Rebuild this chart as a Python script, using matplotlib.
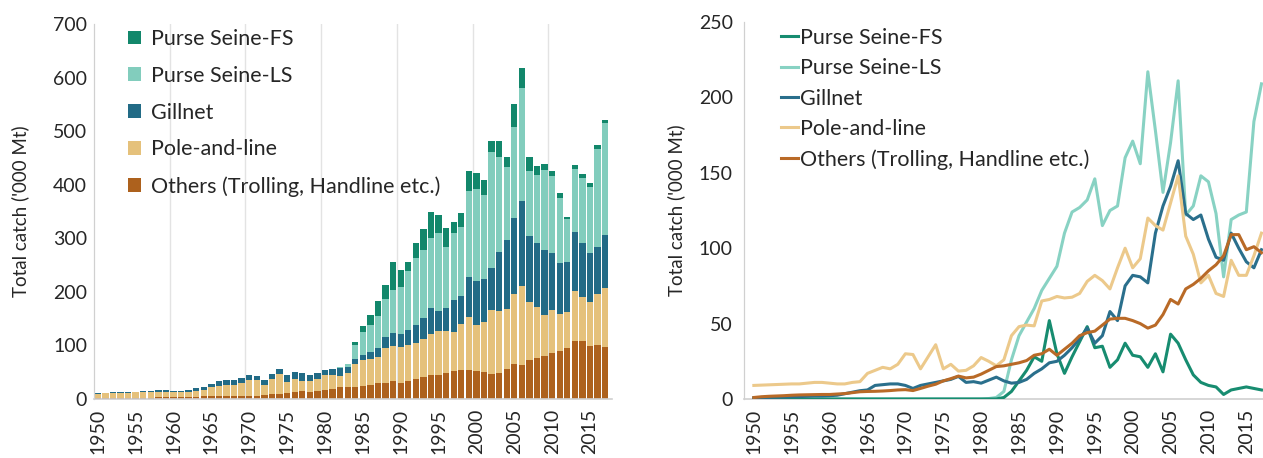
import numpy as np
import matplotlib

matplotlib.use("Agg")

import matplotlib.pyplot as plt

plt.rcParams["font.family"] = ["Lato", "DejaVu Sans"]

years = list(range(1950, 2018))

others = [1.0, 1.5, 1.8, 2.0, 2.2, 2.5, 2.7, 2.8, 2.9, 3.0,
          3.0, 3.3, 3.6, 4.2, 4.8, 5.0, 5.1, 5.3, 5.6, 6.0,
          6.2, 5.6, 7.0, 8.5, 9.8, 12.0, 13.5, 15.2, 14.0, 14.5,
          16.5, 19.0, 21.5, 22.0, 23.0, 24.0, 25.5, 29.0, 30.0, 33.0,
          29.0, 33.0, 37.0, 42.0, 44.0, 45.0, 49.0, 53.0, 53.5, 53.5,
          52.0, 50.0, 47.0, 49.0, 56.0, 66.0, 63.0, 73.0, 76.0, 80.0,
          85.0, 89.0, 95.0, 109.0, 109.0, 99.0, 101.0, 97.0]

pole_and_line = [9.0, 9.2, 9.4, 9.6, 9.8, 10.0, 10.0, 10.5, 11.0, 11.0,
                 10.5, 10.0, 10.0, 11.0, 11.5, 17.0, 19.0, 21.0, 20.0, 23.0,
                 30.0, 29.5, 20.0, 28.0, 36.0, 20.0, 23.0, 18.5, 19.0, 22.0,
                 27.5, 25.0, 22.0, 26.0, 42.0, 48.0, 49.0, 48.5, 65.0, 66.0,
                 68.0, 67.0, 67.5, 70.0, 78.0, 82.0, 78.5, 73.0, 87.0, 100.0,
                 87.0, 93.0, 120.0, 115.0, 112.0, 130.0, 148.0, 108.0, 96.0, 77.0,
                 82.0, 70.0, 68.0, 92.0, 82.0, 82.0, 95.0, 110.0]

gillnet = [0.8, 1.0, 1.0, 1.2, 1.3, 1.5, 1.6, 1.8, 2.0, 2.0,
           2.2, 2.5, 3.5, 4.5, 5.5, 6.0, 9.0, 9.5, 10.0, 10.0,
           9.0, 7.0, 9.0, 10.0, 11.0, 12.0, 13.0, 15.0, 11.0, 11.5,
           10.5, 12.5, 14.5, 12.0, 10.5, 11.0, 13.0, 17.0, 20.0, 24.0,
           25.0, 29.0, 34.0, 40.0, 47.0, 37.0, 42.0, 58.0, 52.0, 75.0,
           82.0, 81.0, 77.0, 110.0, 128.0, 141.0, 158.0, 123.0, 119.0, 122.0,
           106.0, 94.0, 92.0, 110.0, 100.0, 91.0, 87.0, 99.0]

purse_seine_ls = [0.0] * 31 + [0.3, 1.0, 5.0, 26.0, 42.0, 51.0, 60.0, 72.0, 80.0,
                               88.0, 110.0, 124.0, 127.0, 132.0, 146.0, 115.0, 125.0, 128.0, 160.0,
                               171.0, 156.0, 217.0, 178.0, 137.0, 170.0, 211.0, 122.0, 128.0, 148.0,
                               144.0, 123.0, 81.0, 119.0, 122.0, 124.0, 184.0, 209.0]

purse_seine_fs = [0.0] * 33 + [1.0, 5.0, 12.0, 19.0, 28.0, 25.0, 52.0,
                               30.0, 17.0, 28.0, 38.0, 48.0, 34.0, 35.0, 21.0, 26.0, 37.0,
                               29.0, 28.0, 21.0, 30.0, 18.0, 43.0, 37.0, 26.0, 16.0, 11.0,
                               9.0, 8.0, 3.0, 6.0, 7.0, 8.0, 7.0, 6.0]

labels = ["Purse Seine-FS", "Purse Seine-LS", "Gillnet", "Pole-and-line",
          "Others (Trolling, Handline etc.)"]
series = [purse_seine_fs, purse_seine_ls, gillnet, pole_and_line, others]
bar_colors = ["#12876b", "#82cdbd", "#226b86", "#e5c17b", "#ad611d"]
line_colors = ["#178c70", "#88d2c3", "#2a6f8c", "#ecc98b", "#b96a27"]

text_color = "#262626"
axis_color = "#d0d0d0"
W, H = 1263, 458

fig = plt.figure(figsize=(W / 100, H / 100), dpi=100)


def style_axes(ax, ypad, labelpad):
    for side in ["top", "right"]:
        ax.spines[side].set_visible(False)
    ax.spines["left"].set_color(axis_color)
    ax.spines["bottom"].set_color(axis_color)
    ax.spines["left"].set_linewidth(0.9)
    ax.spines["bottom"].set_linewidth(1.2)
    ax.set_xticks(range(1950, 2018, 5))
    ax.tick_params(axis="x", which="major", length=0, pad=7, labelrotation=90,
                   labelsize=14, labelcolor=text_color)
    ax.tick_params(axis="y", length=0, pad=ypad, labelsize=14, labelcolor=text_color)
    ax.set_ylabel("Total catch ('000 Mt)", fontsize=13.5, color=text_color,
                  labelpad=labelpad)


# left: stacked bars
ax1 = fig.add_axes([94 / W, 59 / H, 518 / W, 375 / H])
bottom = np.zeros(len(years))
handles = {}
for i in [4, 3, 2, 1, 0]:
    h = ax1.bar(years, series[i], bottom=bottom, width=0.84, color=bar_colors[i],
                edgecolor="none", zorder=2)
    handles[i] = h
    bottom = bottom + np.array(series[i])
for x in range(1960, 2020, 10):
    ax1.axvline(x - 0.5, color="#e3e3e3", linewidth=1.0, zorder=1)
ax1.set_xlim(1949.5, 2017.9)
ax1.set_ylim(0, 700)
ax1.set_yticks(range(0, 701, 100))
style_axes(ax1, ypad=5, labelpad=17)
ax1.legend([handles[i] for i in range(5)], labels, loc="upper left",
           bbox_to_anchor=(128 / W, 1 - 29 / H), bbox_transform=fig.transFigure,
           frameon=False, fontsize=15.5, handlelength=0.6, handleheight=0.6,
           handletextpad=0.45, labelspacing=0.78, borderpad=0, borderaxespad=0,
           labelcolor=text_color)

# right: lines
ax2 = fig.add_axes([744 / W, 59 / H, (W - 744) / W, 377 / H])
line_handles = []
for i in range(5):
    (ln,) = ax2.plot(years, series[i], color=line_colors[i], linewidth=2.2,
                     zorder=3 if i != 1 else 2)
    line_handles.append(ln)
ax2.set_xlim(1948.7, 2017.2)
ax2.set_ylim(0, 250)
ax2.set_yticks(range(0, 251, 50))
style_axes(ax2, ypad=8, labelpad=10)
ax2.set_xticks(range(1950, 2018, 10), minor=True)
ax2.tick_params(axis="x", which="minor", length=6, width=1.0, color=axis_color)
ax2.legend(line_handles, labels, loc="upper left",
           bbox_to_anchor=(781 / W, 1 - 28 / H), bbox_transform=fig.transFigure,
           frameon=False, fontsize=15.5, handlelength=0.8, handletextpad=0.1,
           labelspacing=0.48, borderpad=0, borderaxespad=0, labelcolor=text_color)

fig.savefig("out.png", dpi=100)
print("saved out.png")
